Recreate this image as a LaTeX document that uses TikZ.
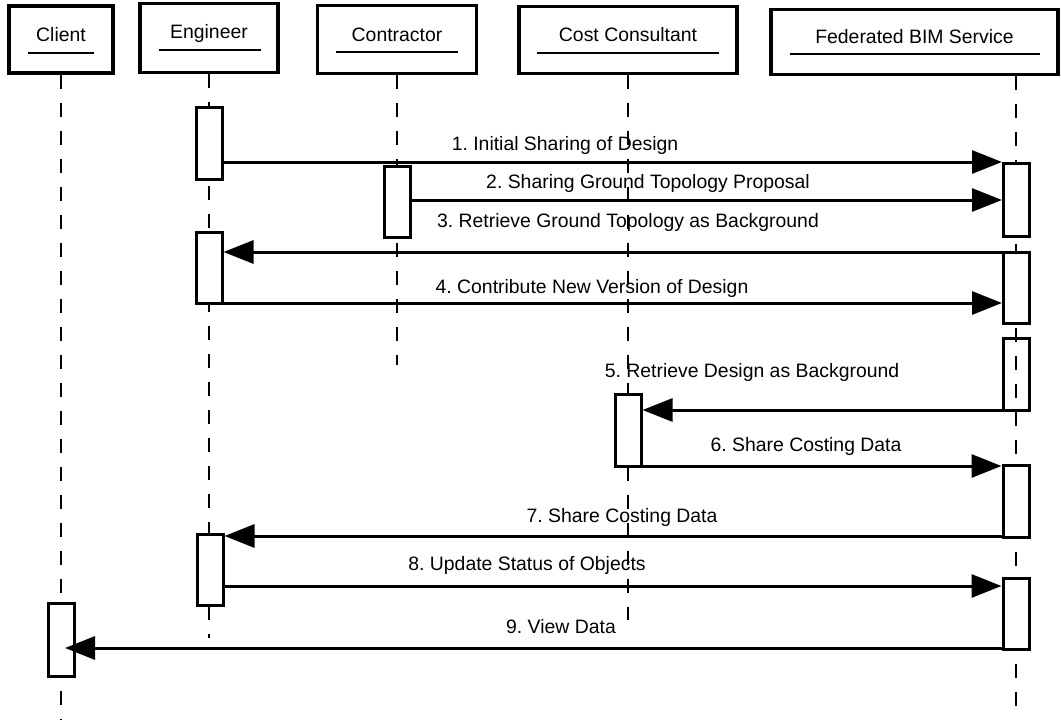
\documentclass[tikz,border=0pt]{standalone}
\usepackage{fontspec}
\setmainfont{Liberation Sans}
\usetikzlibrary{arrows.meta}
\frenchspacing
\begin{document}
\begin{tikzpicture}[x=1pt,y=-1pt,
  font=\fontsize{19.4pt}{23pt}\selectfont,
  role/.style={draw, line width=3.3pt, fill=white, inner sep=0pt},
  lifeline/.style={line width=2pt, dash pattern=on 14pt off 14pt},
  act/.style={draw, line width=3pt, fill=white, minimum width=26pt, inner sep=0pt},
  hollowact/.style={act, fill=none},
  msg/.style={line width=3pt, -{Triangle[length=30pt,width=23pt]}},
  lbl/.style={anchor=base, inner sep=0pt},
  uline/.style={line width=2pt}]
\useasboundingbox (0,0) rectangle (1061,720);

% participant headers
\node[role, minimum width=104pt, minimum height=67pt] (client) at (61,39.5) {};
\node[lbl] (clientT) at (61,41) {Client};
\draw[uline] (28,52.5) -- (94,52.5);

\node[role, minimum width=138pt, minimum height=69pt] (eng) at (209,38) {};
\node[lbl] (engT) at (209,38.6) {Engineer};
\draw[uline] (159,50.4) -- (261,50.4);

\node[role, minimum width=159pt, minimum height=68pt] (con) at (397,39.3) {};
\node[lbl] (conT) at (397,41) {Contractor};
\draw[uline] (336,52.4) -- (458,52.4);

\node[role, minimum width=218pt, minimum height=67pt] (cost) at (628,39.8) {};
\node[lbl] (costT) at (628,41.4) {Cost Consultant};
\draw[uline] (537,53.3) -- (719,53.3);

\node[role, minimum width=287pt, minimum height=65pt] (fed) at (914.5,41.7) {};
\node[lbl] (fedT) at (914.5,43) {Federated BIM Service};
\draw[uline] (790,53.5) -- (1040,53.5);

% lifeline ends
\coordinate (clientEnd) at (61,720);
\coordinate (engEnd) at (209,638);
\coordinate (conEnd) at (397,365);
\coordinate (costEnd) at (628,620);
\coordinate (fedEnd) at (1016,720);

\draw[lifeline] (client.south) -- (clientEnd);
\draw[lifeline] (eng.south) -- (engEnd);
\draw[lifeline] (con.south) -- (conEnd);
\draw[lifeline] (cost.south) -- (costEnd);
\draw[lifeline] (fedEnd |- fed.south) -- (fedEnd);

% activation bars
\node[act, minimum height=72pt] (e1) at (209,143) {};
\node[act, minimum height=71pt] (c1) at (397,201.5) {};
\node[act, minimum height=73pt] (f1) at (1016.5,199.5) {};
\node[act, minimum height=71pt] (e2) at (209,267.5) {};
\node[act, minimum height=71pt] (f2) at (1016.5,287.5) {};
\node[hollowact, minimum height=72pt] (f3) at (1016,374) {};
\node[act, minimum height=72pt] (k1) at (628,430) {};
\node[act, minimum height=72pt] (f4) at (1016,501) {};
\node[act, minimum height=71pt] (e3) at (210,569.5) {};
\node[act, minimum height=71pt] (f5) at (1016,613.5) {};
\node[act, minimum height=73pt] (a1) at (61,639.5) {};

% message levels
\coordinate (m1) at (0,162);
\coordinate (m2) at (0,200);
\coordinate (m3) at (0,252);
\coordinate (m4) at (0,303);
\coordinate (m5) at (0,410);
\coordinate (m6) at (0,466);
\coordinate (m7) at (0,536);
\coordinate (m8) at (0,586);
\coordinate (m9) at (0,648);
\coordinate (t9) at (65,648);

% messages
\draw[msg] (e1.east |- m1) -- (f1.west |- m1);
\draw[msg] (c1.east |- m2) -- (f1.west |- m2);
\draw[msg] (f2.west |- m3) -- (e2.east |- m3);
\draw[msg] (e2.east |- m4) -- (f2.west |- m4);
\draw[msg] (f3.west |- m5) -- (k1.east |- m5);
\draw[msg] (k1.east |- m6) -- (f4.west |- m6);
\draw[msg] (f4.west |- m7) -- (e3.east |- m7);
\draw[msg] (e3.east |- m8) -- (f5.west |- m8);
\draw[msg] (f5.west |- m9) -- (t9);

% message labels
\node[lbl] (l1) at (565,150) {1. Initial Sharing of Design};
\node[lbl] (l2) at (648,188) {2. Sharing Ground Topology Proposal};
\node[lbl] (l3) at (628,227) {3. Retrieve Ground Topology as Background};
\node[lbl] (l4) at (592,293) {4. Contribute New Version of Design};
\node[lbl] (l5) at (752,377) {5. Retrieve Design as Background};
\node[lbl] (l6) at (806,451) {6. Share Costing Data};
\node[lbl] (l7) at (622,522) {7. Share Costing Data};
\node[lbl] (l8) at (527,570) {8. Update Status of Objects};
\node[lbl] (l9) at (561,633) {9. View Data};
\end{tikzpicture}
\end{document}
